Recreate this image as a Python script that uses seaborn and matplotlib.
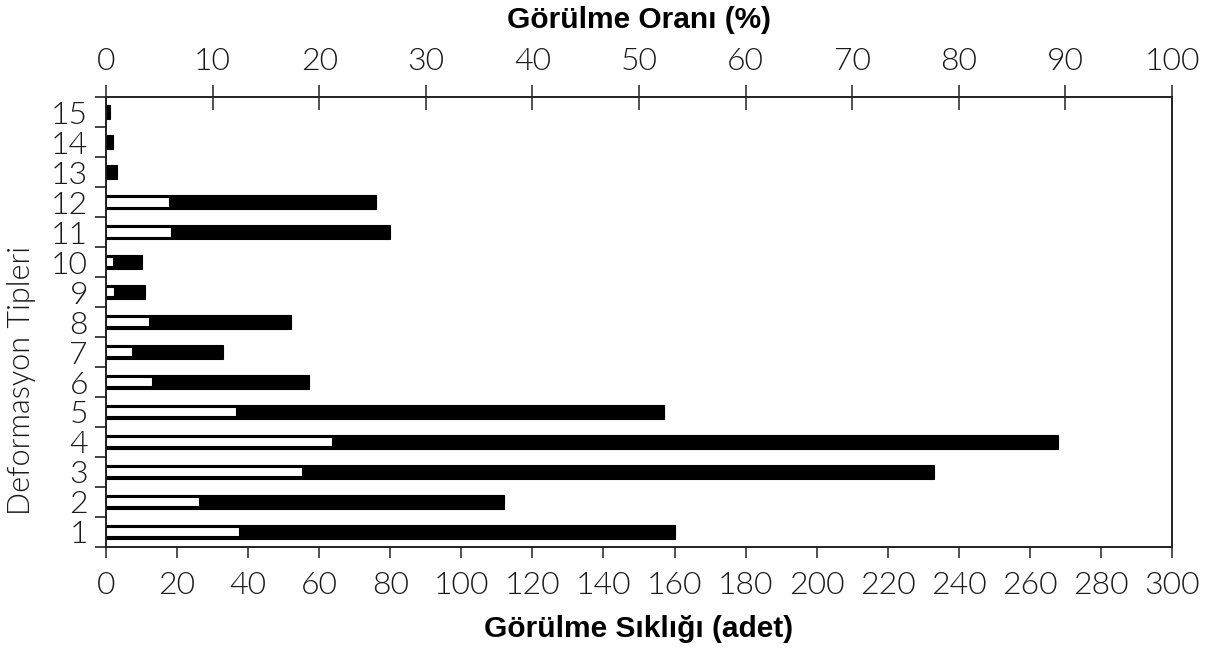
import matplotlib
matplotlib.use("Agg")
import matplotlib.pyplot as plt
import seaborn as sns
import pandas as pd
from matplotlib.ticker import FixedLocator, MultipleLocator

# Deformation types, listed top to bottom
types = ["15", "14", "13", "12", "11", "10", "9", "8", "7", "6", "5", "4", "3", "2", "1"]
# Frequency of occurrence (count)
counts = [1, 2, 3, 76, 80, 10, 11, 52, 33, 57, 157, 268, 233, 112, 160]
# Occurrence rate (%)
rates = [0.1, 0.2, 0.2, 6.0, 6.2, 0.7, 0.8, 4.1, 2.5, 4.45, 12.3, 21.3, 18.5, 8.8, 12.6]

df = pd.DataFrame({"tip": types, "adet": counts, "oran": rates})

sns.set_theme(style="white")
light = ["Lato", "DejaVu Sans"]
plt.rcParams["font.family"] = light
plt.rcParams["font.weight"] = 300
plt.rcParams["text.color"] = "#1a1a1a"
plt.rcParams["xtick.color"] = "#1a1a1a"
plt.rcParams["ytick.color"] = "#1a1a1a"

fig = plt.figure(figsize=(12.12, 6.48), dpi=100)
ax = fig.add_axes([0.0875, 0.156, 0.8795, 0.694])

sns.barplot(data=df, y="tip", x="adet", order=types, orient="h",
            color="black", width=0.48, saturation=1, ax=ax,
            edgecolor="black", linewidth=0.8)

ax2 = ax.twiny()
sns.barplot(data=df, y="tip", x="oran", order=types, orient="h",
            color="white", width=0.36, saturation=1, ax=ax2,
            edgecolor="black", linewidth=1.5)

ax.set_xlim(0, 300)
ax2.set_xlim(0, 100)
ax.set_ylim(len(types) - 0.5, -0.5)

ax.xaxis.set_major_locator(MultipleLocator(20))
ax2.xaxis.set_major_locator(MultipleLocator(10))

# category boundaries carry the left ticks
ax.yaxis.set_minor_locator(FixedLocator([i - 0.5 for i in range(len(types) + 1)]))
ax.tick_params(axis="y", which="major", length=0, pad=13, labelsize=23,
               labelcolor="#1a1a1a")
ax.tick_params(axis="y", which="minor", left=True, length=8, width=1.2, color="#222222")
ax.tick_params(axis="x", which="major", bottom=True, direction="out", length=8,
               width=1.2, color="#333333", pad=9, labelsize=23, labelcolor="#1a1a1a")
ax2.tick_params(axis="x", which="major", top=True, direction="inout", length=18,
                width=1.2, color="#333333", pad=6, labelsize=23, labelcolor="#1a1a1a")
ax2.tick_params(axis="y", left=False, right=False, labelleft=False)
ax.set_ylabel("Deformasyon Tipleri", fontsize=22, fontweight=300, color="#1a1a1a")
ax.yaxis.set_label_coords(-0.066, 0.37)
ax2.set_ylabel("")

bold = ["Liberation Sans", "DejaVu Sans"]
ax.set_xlabel("Görülme Sıklığı (adet)", fontsize=21.5, fontweight="bold",
              family=bold, labelpad=11, color="black")
ax2.set_xlabel("Görülme Oranı (%)", fontsize=21.5, fontweight="bold",
               family=bold, labelpad=14, color="black")

for a in (ax, ax2):
    for side in ("left", "right", "top", "bottom"):
        a.spines[side].set_visible(True)
        a.spines[side].set_color("#222222")
        a.spines[side].set_linewidth(1.2)

fig.savefig("out.png", dpi=100, facecolor="white")
